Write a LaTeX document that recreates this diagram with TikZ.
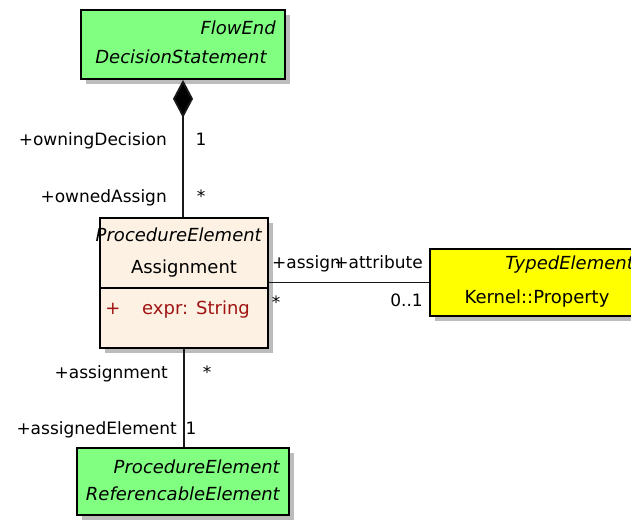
\documentclass[tikz,border=0pt]{standalone}
\usepackage{fontspec}
\setmainfont{DejaVu Sans}
\usetikzlibrary{arrows.meta,shadows}
\definecolor{clsgreen}{RGB}{128,255,128}
\definecolor{clsyellow}{RGB}{255,255,0}
\definecolor{clslinen}{RGB}{252,241,226}
\definecolor{attrred}{RGB}{160,20,20}
\definecolor{shadowgray}{RGB}{188,188,188}
\begin{document}
\begin{tikzpicture}[x=1pt,y=-1pt,
  classbox/.style={draw=black,line width=1.7pt,inner sep=0pt,
    drop shadow={shadow xshift=5pt,shadow yshift=-5pt,fill=shadowgray,opacity=1}},
  boxtext/.style={inner sep=0pt,font=\fontsize{18}{21}\selectfont},
  stereo/.style={inner sep=0pt,font=\fontsize{18}{21}\selectfont\itshape},
  rolelabel/.style={inner sep=0pt,anchor=base east,font=\fontsize{17}{20}\selectfont},
  multlabel/.style={inner sep=0pt,anchor=base,font=\fontsize{17}{20}\selectfont},
  assoc/.style={line width=1.8pt,draw=black!90}]
\useasboundingbox (0,0) rectangle (631,521);
\fill[white] (0,0) rectangle (631,521);

% class boxes with drop shadows
\node[classbox,fill=clsgreen,minimum width=204pt,minimum height=69pt]
      (flowend) at (183,44.5) {};
\node[classbox,fill=clslinen,minimum width=168pt,minimum height=130pt]
      (assign) at (184,283) {};
\node[classbox,fill=clsyellow,minimum width=214pt,minimum height=67pt]
      (typed) at (537,282.5) {};
\node[classbox,fill=clsgreen,minimum width=212pt,minimum height=67pt]
      (refel) at (183,481.5) {};

% compartment divider of Assignment
\coordinate (divL) at (assign.west |- 0,288);
\coordinate (divR) at (assign.east |- 0,288);
\draw[line width=1.7pt] (divL) -- (divR);

% box texts
\node[stereo,anchor=base east] (feSt) at (276,34.5) {FlowEnd};
\node[stereo,anchor=base] (feName) at (181,63.5) {DecisionStatement};
\node[stereo,anchor=base east] (asSt) at (262,241) {ProcedureElement};
\node[boxtext,anchor=base] (asName) at (184,273) {Assignment};
\node[boxtext,anchor=base,text=attrred] (asVis) at (113,314) {+};
\node[boxtext,anchor=base west,text=attrred] (asAttr) at (142,314) {expr:\hspace{8pt}String};
\node[stereo,anchor=base east] (tySt) at (634,269) {TypedElement};
\node[boxtext,anchor=base] (tyName) at (537,303) {Kernel::Property};
\node[stereo,anchor=base east] (reSt) at (280,473) {ProcedureElement};
\node[stereo,anchor=base east] (reName) at (280,500) {ReferencableElement};

% associations
\draw[assoc,{Diamond[length=38pt,width=20pt,fill=black]}-] (flowend.south) -- (flowend.south |- assign.north);
\draw[assoc] (assign.east |- typed.west) -- (typed.west);
\draw[assoc] (assign.south) -- (assign.south |- refel.north);

% role names and multiplicities
\node[rolelabel] (rOwning) at (167,146) {+owningDecision};
\node[multlabel] (mOwning) at (201,146) {1};
\node[rolelabel] (rOwned) at (167,203) {+ownedAssign};
\node[multlabel] (mOwned) at (201,203) {*};
\node[multlabel,anchor=base west] (rAssign) at (272,268) {+assign};
\node[rolelabel] (rAttr) at (423,268) {+attribute};
\node[multlabel] (mAssign) at (276,308) {*};
\node[rolelabel] (mAttr) at (423,306) {0..1};
\node[rolelabel] (rAssignment) at (168,378) {+assignment};
\node[multlabel] (mAssignment) at (207,378) {*};
\node[rolelabel] (rElem) at (177,434) {+assignedElement};
\node[multlabel] (mElem) at (191,434) {1};
\end{tikzpicture}
\end{document}
